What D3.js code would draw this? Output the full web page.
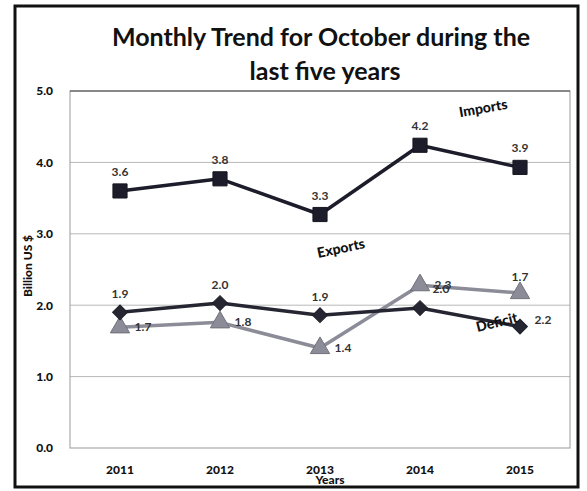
<!DOCTYPE html>
<html>
<head>
<meta charset="utf-8">
<script src="https://cdn.jsdelivr.net/npm/d3@7"></script>
<style>
  body { margin: 0; background: #fff; }
  text { font-family: Lato, "Open Sans", sans-serif; }
</style>
</head>
<body>
<div id="chart"></div>
<script>
// data
var years = ["2011", "2012", "2013", "2014", "2015"];
var imports = [3.6, 3.77, 3.27, 4.24, 3.93];
var exports = [1.9, 2.03, 1.86, 1.96, 1.7];
var deficit = [1.69, 1.76, 1.4, 2.28, 2.17];
var yTicks = [0, 1, 2, 3, 4, 5];

var W = 587, H = 491;
var margin = { top: 91, right: 17, bottom: 43, left: 70 },
    width = W - margin.left - margin.right,
    height = H - margin.top - margin.bottom;

var svg = d3.select("#chart").append("svg")
    .attr("width", W)
    .attr("height", H);

// outer frame
svg.append("rect")
    .attr("x", 15).attr("y", 6)
    .attr("width", 563).attr("height", 481)
    .attr("fill", "none")
    .attr("stroke", "#111")
    .attr("stroke-width", 3);

// title
svg.append("text")
    .attr("x", 321).attr("y", 46)
    .attr("text-anchor", "middle")
    .style("font-size", "25px").style("font-weight", "bold")
    .attr("fill", "#111")
    .text("Monthly Trend for October during the");
svg.append("text")
    .attr("x", 325).attr("y", 80)
    .attr("text-anchor", "middle")
    .style("font-size", "25px").style("font-weight", "bold")
    .attr("fill", "#111")
    .text("last five years");

var g = svg.append("g")
    .attr("transform", "translate(" + margin.left + "," + margin.top + ")");

var x = d3.scaleBand().domain(years).range([0, width]);
var y = d3.scaleLinear().domain([0, 5]).range([height, 0]);
var cx = function(i) { return x(years[i]) + x.bandwidth() / 2; };

// gridlines
g.selectAll("line.grid")
    .data(yTicks.slice(1, 5))
    .enter().append("line")
    .attr("class", "grid")
    .attr("x1", 0).attr("x2", width)
    .attr("y1", function(d) { return y(d); })
    .attr("y2", function(d) { return y(d); })
    .attr("stroke", "#b8b8b8")
    .attr("stroke-width", 1);

// plot border
g.append("rect")
    .attr("width", width).attr("height", height)
    .attr("fill", "none")
    .attr("stroke", "#999")
    .attr("stroke-width", 1);
g.append("line")
    .attr("x1", 0).attr("x2", width)
    .attr("y1", 0).attr("y2", 0)
    .attr("stroke", "#444");

// axes (labels only)
var yAxis = g.append("g")
    .call(d3.axisLeft(y).tickValues(yTicks).tickFormat(d3.format(".1f")).tickSize(0).tickPadding(17));
yAxis.select(".domain").remove();
yAxis.selectAll("text")
    .style("font-size", "12px").style("font-weight", "900")
    .style("font-family", "Lato, sans-serif")
    .attr("fill", "#111");

var xAxis = g.append("g")
    .attr("transform", "translate(0," + height + ")")
    .call(d3.axisBottom(x).tickSize(0).tickPadding(17));
xAxis.select(".domain").remove();
xAxis.selectAll("text")
    .style("font-size", "12px").style("font-weight", "900")
    .style("font-family", "Lato, sans-serif")
    .attr("fill", "#111");

svg.append("text")
    .attr("x", 330).attr("y", 484)
    .attr("text-anchor", "middle")
    .style("font-size", "12px").style("font-weight", "900")
    .attr("fill", "#111")
    .text("Years");

svg.append("text")
    .attr("transform", "translate(32,266) rotate(-90)")
    .attr("text-anchor", "middle")
    .style("font-size", "12px").style("font-weight", "900")
    .attr("fill", "#111")
    .text("Billion US $");

var line = d3.line()
    .x(function(d, i) { return cx(i); })
    .y(function(d) { return y(d); });

function drawSeries(values, color, symbol, size, rot) {
    g.append("path")
        .datum(values)
        .attr("d", line)
        .attr("fill", "none")
        .attr("stroke", color)
        .attr("stroke-width", 3.5)
        .attr("stroke-linejoin", "round");
    g.selectAll(null)
        .data(values)
        .enter().append("path")
        .attr("transform", function(d, i) { return "translate(" + cx(i) + "," + y(d) + ") rotate(" + rot + ")"; })
        .attr("d", d3.symbol().type(symbol).size(size))
        .attr("fill", color)
        .attr("stroke", d3.color(color).darker(0.6))
        .attr("stroke-width", 1);
}

drawSeries(deficit, "#8c8c98", d3.symbolTriangle, 160, 0);
drawSeries(exports, "#262633", d3.symbolSquare, 110, 45);
drawSeries(imports, "#1c1c2a", d3.symbolSquare, 200, 0);

var fmt = d3.format(".1f");
function label(px, py, txt) {
    g.append("text")
        .attr("x", px).attr("y", py)
        .attr("text-anchor", "middle")
        .style("font-size", "12px")
        .style("font-weight", "bold")
        .attr("fill", "#333")
        .text(txt);
}

// imports labels above
imports.forEach(function(d, i) { label(cx(i), y(d) - 15, fmt(d)); });
// exports labels above, last two were dragged beside the grey line
exports.forEach(function(d, i) {
    if (i < 3) label(cx(i), y(d) - 14, fmt(d));
    else if (i === 3) label(cx(i) + 21, y(deficit[i]) + 8, fmt(d));
    else label(cx(i), y(deficit[i]) - 12, fmt(d));
});
// deficit labels right of the triangles (last one next to the dark diamond)
deficit.forEach(function(d, i) {
    var py = i === 4 ? y(exports[i]) - 3 : y(d) + 4;
    label(cx(i) + 23, py, fmt(d));
});

// series names
function seriesName(px, py, ang, txt) {
    g.append("text")
        .attr("transform", "translate(" + px + "," + py + ") rotate(" + ang + ")")
        .attr("text-anchor", "middle")
        .style("font-size", "14px").style("font-weight", "900")
        .attr("fill", "#111")
        .text(txt);
}
seriesName(414, 22, -10, "Imports");
seriesName(272, 162, -12, "Exports");
seriesName(428, 236, -14, "Deficit");
</script>
</body>
</html>
